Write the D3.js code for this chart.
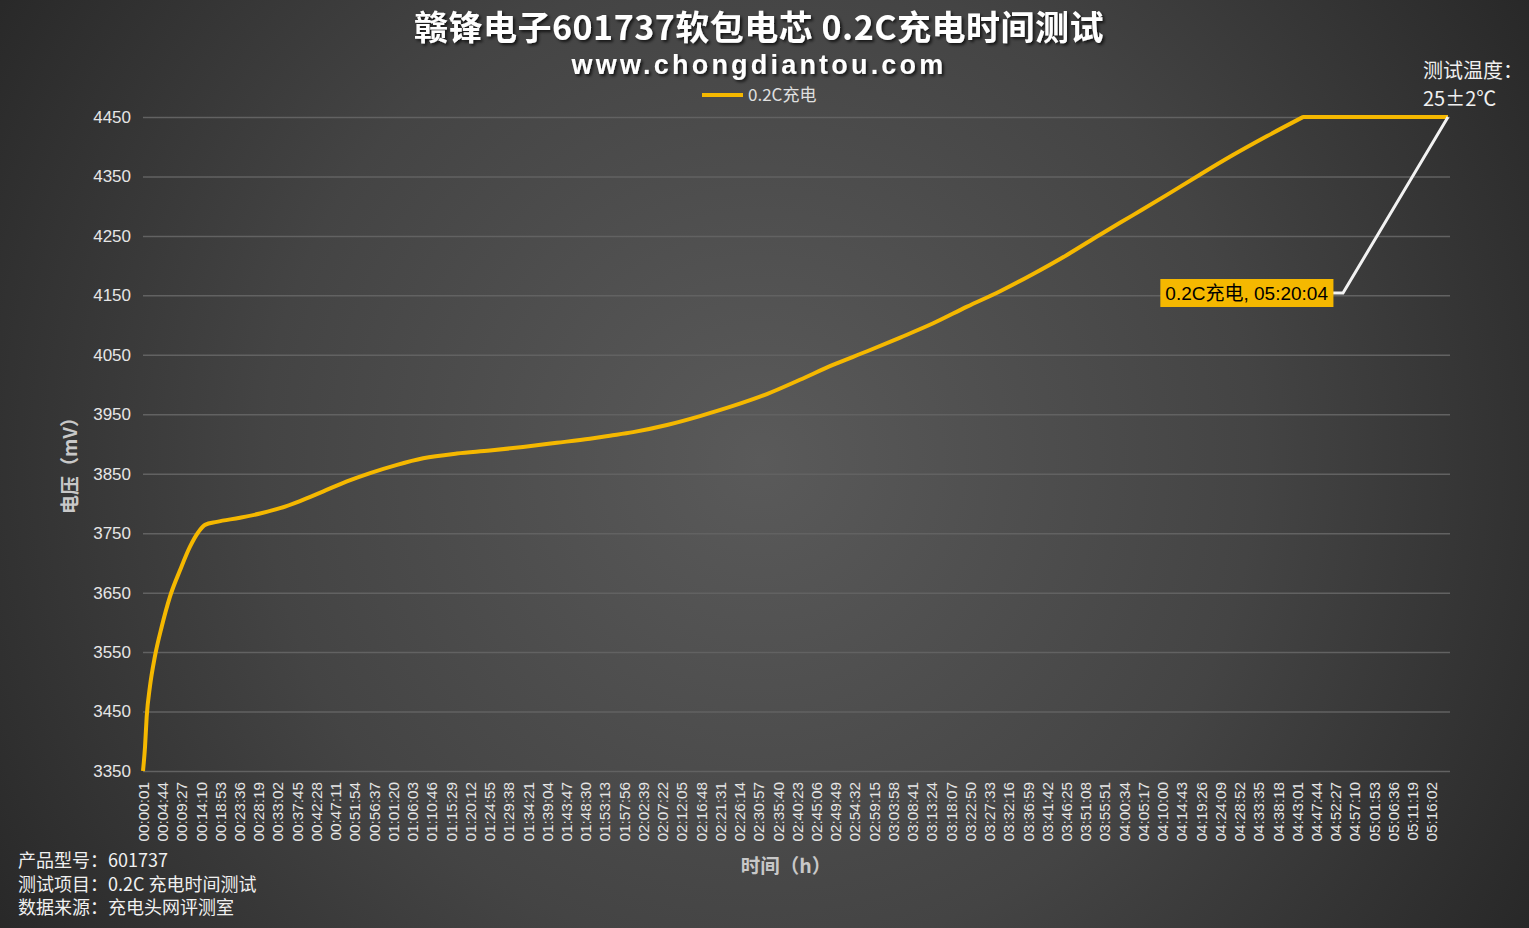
<!DOCTYPE html>
<html><head><meta charset="utf-8">
<script src="https://cdn.jsdelivr.net/npm/d3@7"></script>
<style>html,body{margin:0;padding:0;background:#333;}svg{display:block;}</style>
</head><body>
<svg id="chart" width="1529" height="928"></svg>
<script>
// ---- data ----
const titleText = "赣锋电子601737软包电芯 0.2C充电时间测试";
const subtitleText = "www.chongdiantou.com";
const seriesName = "0.2C充电";
// elapsed time (minutes) and voltage (mV)
const timeMin = [0, 0.5, 0.9, 1.7, 2.9, 4.6, 6.6, 9.1, 11.5, 13.6, 15.2, 18.1, 23.8, 28.7, 33.6, 38.5, 44.1, 50.0, 55.7, 62.3, 68.7, 77.0, 85.1, 93.2, 101.5, 109.6, 114.5, 120.2, 128.5, 136.6, 144.7, 153.0, 161.1, 169.2, 177.6, 185.7, 193.8, 202.1, 210.2, 218.3, 226.6, 234.7, 242.8, 251.1, 259.2, 267.3, 275.7, 284.5, 300.0, 320.07];
const voltage = [3350, 3391, 3441, 3492, 3542, 3593, 3643, 3688, 3727, 3752, 3764, 3769, 3776, 3783, 3792, 3804, 3820, 3837, 3851, 3865, 3876, 3884, 3889, 3895, 3902, 3909, 3914, 3920, 3932, 3947, 3964, 3984, 4008, 4033, 4056, 4079, 4103, 4131, 4157, 4186, 4218, 4252, 4285, 4319, 4353, 4386, 4418, 4450, 4450, 4450];
const yTicks = [3350, 3450, 3550, 3650, 3750, 3850, 3950, 4050, 4150, 4250, 4350, 4450];
const xTickLabels = ["00:00:01","00:04:44","00:09:27","00:14:10","00:18:53","00:23:36","00:28:19","00:33:02","00:37:45","00:42:28","00:47:11","00:51:54","00:56:37","01:01:20","01:06:03","01:10:46","01:15:29","01:20:12","01:24:55","01:29:38","01:34:21","01:39:04","01:43:47","01:48:30","01:53:13","01:57:56","02:02:39","02:07:22","02:12:05","02:16:48","02:21:31","02:26:14","02:30:57","02:35:40","02:40:23","02:45:06","02:49:49","02:54:32","02:59:15","03:03:58","03:08:41","03:13:24","03:18:07","03:22:50","03:27:33","03:32:16","03:36:59","03:41:42","03:46:25","03:51:08","03:55:51","04:00:34","04:05:17","04:10:00","04:14:43","04:19:26","04:24:09","04:28:52","04:33:35","04:38:18","04:43:01","04:47:44","04:52:27","04:57:10","05:01:53","05:06:36","05:11:19","05:16:02"];
const endLabel = "0.2C充电, 05:20:04";
const infoLines = ["产品型号：601737", "测试项目：0.2C 充电时间测试", "数据来源：充电头网评测室"];
const tempLines = ["测试温度：", "25±2℃"];
const yTitle = "电压（mV）";
const xTitle = "时间（h）";

// ---- layout ----
const W = 1529, H = 928;
const plot = {left: 143, right: 1448, top: 117, bottom: 771};
const lineColor = "#F5B800";
const font = "'Noto Sans CJK SC','Noto Sans',sans-serif";
const numFont = "Arial,'Liberation Sans',sans-serif";

const svg = d3.select("#chart");
const defs = svg.append("defs");
const rg = defs.append("radialGradient").attr("id","bg")
  .attr("gradientUnits","userSpaceOnUse").attr("cx",760).attr("cy",460).attr("r",900);
rg.append("stop").attr("offset","0").attr("stop-color","#5a5a5a");
rg.append("stop").attr("offset","0.55").attr("stop-color","#444");
rg.append("stop").attr("offset","1").attr("stop-color","#282828");
const sh = defs.append("filter").attr("id","shadow").attr("x","-10%").attr("y","-30%").attr("width","120%").attr("height","160%");
sh.append("feDropShadow").attr("dx",2).attr("dy",2).attr("stdDeviation",1.5).attr("flood-color","#000").attr("flood-opacity",0.7);

svg.append("rect").attr("width",W).attr("height",H).attr("fill","url(#bg)");

const toSec = s => { const p = s.split(":").map(Number); return p[0]*3600+p[1]*60+p[2]; };
const tEnd = toSec(endLabel.split(", ")[1]);
const x = d3.scaleLinear().domain([1, tEnd]).range([plot.left, plot.right]);
const y = d3.scaleLinear().domain([3350, 4450]).range([plot.bottom, plot.top]);

// gridlines + y labels
const yAxis = d3.axisLeft(y).tickValues(yTicks).tickSize(-(1450 - plot.left)).tickPadding(12).tickFormat(d3.format("d"));
const gy = svg.append("g").attr("transform",`translate(${plot.left},0)`).call(yAxis);
gy.select(".domain").remove();
gy.selectAll(".tick line").attr("stroke","#626262").attr("stroke-width",1.5);
gy.selectAll(".tick text").attr("fill","#e6e6e6").attr("font-size",17).attr("font-family",numFont);

// x axis labels
const xTickVals = xTickLabels.map(toSec);
const xAxis = d3.axisBottom(x).tickValues(xTickVals).tickSize(0).tickFormat((d,i)=>xTickLabels[i]);
const gx = svg.append("g").attr("transform",`translate(0,${plot.bottom})`).call(xAxis);
gx.select(".domain").remove();
gx.selectAll(".tick text").attr("fill","#e6e6e6").attr("font-size",15.3)
  .attr("font-family",numFont)
  .attr("transform","rotate(-90)").attr("text-anchor","end")
  .attr("x",-11).attr("y",0).attr("dy","0.35em");

// line: smooth rise, then straight flat segment at the cut-off voltage
const pts = timeMin.map((m,i)=>({t: 1 + m*60, v: voltage[i]}));
pts[pts.length-1].t = tEnd;
const vMax = d3.max(voltage);
const knee = voltage.indexOf(vMax);
const smooth = d3.line().x(d=>x(d.t)).y(d=>y(d.v)).curve(d3.curveMonotoneX);
const straight = d3.line().x(d=>x(d.t)).y(d=>y(d.v));
const dPath = smooth(pts.slice(0, knee+1)) + straight(pts.slice(knee)).replace(/^M/, "L");
svg.append("path").attr("d",dPath).attr("fill","none")
  .attr("stroke",lineColor).attr("stroke-width",4).attr("stroke-linejoin","round");

// annotation leader
const last = pts[pts.length-1];
const ex = x(last.t), ey = y(last.v);
const boxRight = 1333, boxY = 293;
svg.append("path").attr("d",`M${ex},${ey}L${boxRight+10},${boxY}L${boxRight},${boxY}`)
  .attr("fill","none").attr("stroke","#f2f2f2").attr("stroke-width",3);
const lbl = svg.append("g");
const lt = lbl.append("text").attr("x",boxRight-5).attr("y",boxY).attr("dy","0.36em")
  .attr("text-anchor","end").attr("font-size",19).attr("fill","#000")
  .attr("font-family","Arial,'Liberation Sans','Noto Sans CJK SC',sans-serif").text(endLabel);
const bb = lt.node().getBBox();
lbl.insert("rect","text").attr("x",bb.x-5).attr("y",boxY-14).attr("width",bb.width+10).attr("height",28).attr("fill",lineColor);

// title
svg.append("text").attr("x",759).attr("y",39.5).attr("text-anchor","middle")
  .attr("font-size",34).attr("font-weight","bold").attr("fill","#fff").attr("letter-spacing",0.5)
  .attr("font-family",font).attr("filter","url(#shadow)").text(titleText);
svg.append("text").attr("x",759).attr("y",74).attr("text-anchor","middle")
  .attr("font-size",27).attr("font-weight","bold").attr("fill","#fff").attr("letter-spacing",3.2)
  .attr("font-family",numFont).attr("filter","url(#shadow)").text(subtitleText);

// legend
svg.append("line").attr("x1",702).attr("x2",743).attr("y1",95).attr("y2",95)
  .attr("stroke",lineColor).attr("stroke-width",4);
svg.append("text").attr("x",748).attr("y",95).attr("dy","0.35em").attr("font-size",17)
  .attr("fill","#e0e0e0").attr("font-family",font).text(seriesName);

// axis titles
svg.append("text").attr("transform","translate(70,461) rotate(-90)").attr("text-anchor","middle")
  .attr("dy","0.35em").attr("font-size",19).attr("font-weight","bold").attr("fill","#c8c8c8")
  .attr("font-family",font).text(yTitle);
svg.append("text").attr("x",786).attr("y",866).attr("text-anchor","middle").attr("dy","0.35em")
  .attr("font-size",19.5).attr("font-weight","bold").attr("fill","#c8c8c8")
  .attr("font-family",font).text(xTitle);

// info text
svg.append("g").selectAll("text").data(infoLines).join("text")
  .attr("x",18).attr("y",(d,i)=>861+i*23.5).attr("dy","0.35em").attr("font-size",18)
  .attr("fill","#f0f0f0").attr("font-family",font).text(d=>d);
svg.append("g").selectAll("text").data(tempLines).join("text")
  .attr("x",1423).attr("y",(d,i)=>71+i*28).attr("dy","0.35em").attr("font-size",20)
  .attr("fill","#f0f0f0").attr("font-family",font).text(d=>d);
</script>
</body></html>
